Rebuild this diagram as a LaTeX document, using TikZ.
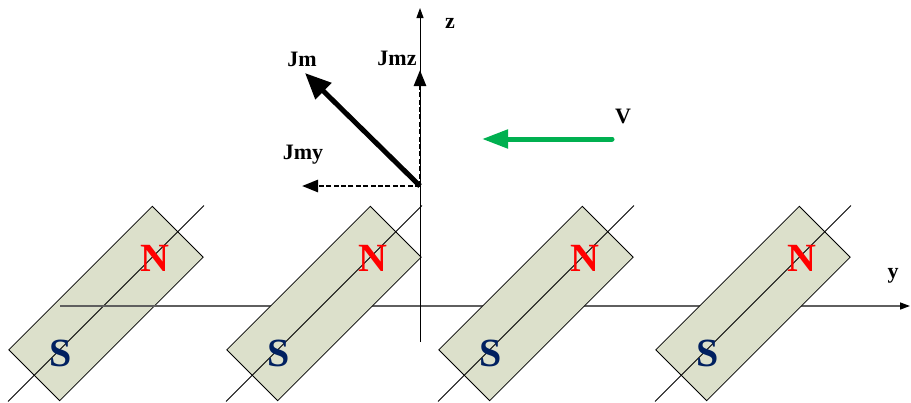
\documentclass[tikz,border=0pt]{standalone}
\usepackage{fontspec}
\setmainfont{Liberation Serif}
\usetikzlibrary{arrows.meta,calc}
\definecolor{iman}{HTML}{DCE0CB}
\definecolor{norte}{HTML}{FF0000}
\definecolor{sur}{HTML}{002060}
\definecolor{verde}{HTML}{00B050}
\definecolor{eje}{HTML}{5F5F5F}

\begin{document}
\begin{tikzpicture}[x=0.5pt, y=-0.5pt, font=\fontsize{11}{12}\selectfont\bfseries,
      m/.style={draw, line width=0.4pt, fill=iman, rotate=45, minimum width=101.5pt,
                minimum height=36pt, inner sep=0pt},
      polo/.style={font=\fontsize{20}{20}\selectfont\bfseries, inner sep=0pt, anchor=base},
      ax/.style={-{Triangle[length=5pt, width=3.5pt, color=black]}},
      vd/.style={dash pattern=on 2.5pt off 1.2pt, line width=1.3pt,
                 -{Triangle[length=8pt, width=6pt]}},
      et/.style={inner sep=0pt, anchor=base}]

    \useasboundingbox (0,0) rectangle (911,402);

    % ejes
    \coordinate (y0) at (60,306);
    \coordinate (y1) at (910,306);
    \coordinate (z0) at (420,342);
    \coordinate (z1) at (420,8);

    % imanes (el eje y pasa por encima del primero)
    \foreach \dx [count=\i] in {0,218,430,647}{
      \node[m] (m\i) at (106+\dx,303.5) {};
      \draw[line width=0.4pt] ($(m\i.west)!-0.18!(m\i.east)$) -- ($(m\i.east)!-0.18!(m\i.west)$);
      \node[polo, text=norte] (n\i) at (155+\dx,271) {N};
      \node[polo, text=sur] (s\i) at (61+\dx,366) {S};
      \ifnum\i=1
        \draw[ax, draw=eje, line width=0.75pt] (y0) -- (y1);
      \fi
    }

    \draw[ax, line width=0.5pt] (z0) -- (z1);
    \node[et] (lz) at (450,28) {z};
    \node[et] (ly) at (893,278) {y};

    % momento Jm y sus componentes
    \coordinate (o) at (420,186);
    \coordinate (jm) at (305,73);
    \coordinate (jmz) at (420,70);
    \coordinate (jmy) at (302,186);
    \draw[line width=2.5pt, -{Triangle[length=13pt, width=11pt]}] (o) -- (jm);
    \draw[vd] (o) -- (jmz);
    \draw[vd] (o) -- (jmy);
    \node[et] (ljm) at (302,66) {Jm};
    \node[et] (ljmz) at (397,65) {Jmz};
    \node[et] (ljmy) at (303,159) {Jmy};

    % velocidad
    \coordinate (v0) at (612,139);
    \coordinate (v1) at (482,139);
    \draw[verde, line width=2.5pt, line cap=round, -{Triangle[length=13pt, width=9pt]}] (v0) -- (v1);
    \node[et] (lv) at (623,123) {V};
  \end{tikzpicture}
\end{document}
